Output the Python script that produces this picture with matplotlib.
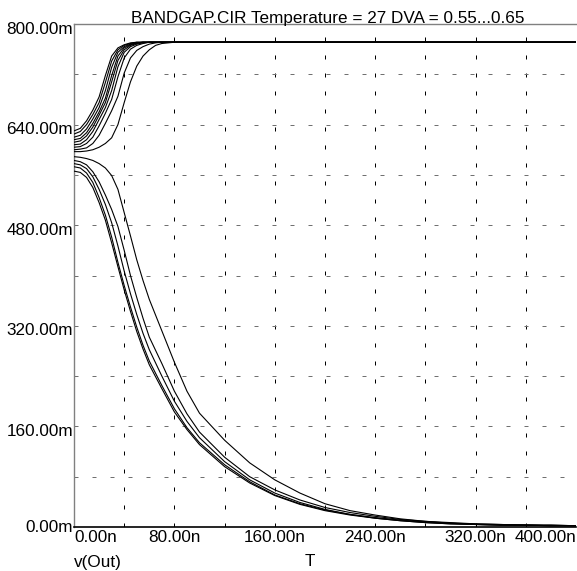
import matplotlib
matplotlib.use("Agg")
import matplotlib.pyplot as plt
import matplotlib.transforms as mtransforms

plt.rcParams['font.family'] = ['Liberation Sans', 'DejaVu Sans']

TITLE = "BANDGAP.CIR Temperature = 27 DVA = 0.55...0.65"

# time in ns, v(Out) in mV
t_rise = [0, 5, 10, 15, 20, 25, 30, 35, 40, 45, 50, 55, 60, 65, 70, 80, 400]
rise_1 = [630, 634, 646, 663, 684, 718, 749, 762, 767, 770, 771, 771, 771, 771, 771, 771, 771]
rise_2 = [625, 629, 640, 656, 675, 707, 741, 759, 766, 769, 771, 771, 771, 771, 771, 771, 771]
rise_3 = [620, 623, 633, 649, 667, 694, 731, 755, 764, 768, 770, 771, 771, 771, 771, 771, 771]
rise_4 = [616, 618, 627, 642, 660, 682, 718, 749, 762, 767, 770, 771, 771, 771, 771, 771, 771]
rise_5 = [612, 614, 622, 636, 655, 675, 708, 742, 759, 766, 769, 771, 771, 771, 771, 771, 771]
rise_6 = [608, 609, 616, 629, 648, 667, 694, 732, 755, 764, 768, 770, 771, 771, 771, 771, 771]
rise_7 = [604, 605, 610, 620, 638, 658, 680, 716, 746, 760, 766, 769, 771, 771, 771, 771, 771]
rise_8 = [600, 601, 603, 610, 623, 642, 662, 685, 722, 746, 758, 764, 768, 770, 771, 771, 771]
rise_9 = [597, 597, 598, 600, 604, 610, 619, 640, 675, 708, 733, 749, 759, 766, 769, 771, 771]

t_fall = [0, 5, 10, 15, 20, 25, 30, 35, 40, 45, 50, 55, 60, 70, 80, 90, 100,
          120, 140, 160, 180, 200, 220, 240, 260, 280, 300, 320, 340, 360, 380, 400]
fall_1 = [566, 564, 556, 540, 516, 488, 452, 414, 377, 343, 311, 283, 258, 220, 183, 155, 131,
          96, 70, 50, 36, 26, 19, 14, 10, 7, 5, 4, 3, 3, 2, 2]
fall_2 = [573, 571, 563, 548, 524, 496, 461, 421, 384, 350, 318, 289, 264, 225, 188, 158, 134,
          99, 72, 51, 37, 27, 20, 14, 10, 7, 5, 4, 3, 3, 2, 2]
fall_3 = [578, 576, 570, 557, 537, 513, 484, 447, 407, 371, 338, 308, 282, 240, 200, 168, 142,
          104, 75, 54, 39, 28, 20, 15, 11, 8, 6, 4, 3, 3, 2, 2]
fall_4 = [583, 581, 576, 565, 549, 528, 505, 478, 440, 400, 365, 332, 302, 260, 216, 180, 151,
          111, 80, 59, 43, 31, 23, 17, 12, 9, 6, 5, 4, 3, 3, 2]
fall_5 = [589, 588, 586, 583, 578, 571, 559, 537, 500, 463, 425, 392, 362, 312, 262, 216, 181,
          138, 102, 75, 54, 37, 26, 19, 13, 9, 7, 5, 4, 3, 3, 2]

x_grid = [40, 80, 120, 160, 200, 240, 280, 320, 360]
y_grid = [80, 160, 240, 320, 400, 480, 560, 640, 720]
x_labels = [0, 80, 160, 240, 320, 400]
y_labels = [0, 160, 320, 480, 640, 800]

FS = 12.3
W, H = 577, 571
fig = plt.figure(figsize=(W / 100, H / 100), dpi=100)
ax = fig.add_axes([74 / W, 1 - 527 / H, 502 / W, 503 / H])
ax.set_xlim(0, 400)
ax.set_ylim(0, 800)

# grid (dash lengths scale with lw=0.72pt -> values in pixels)
for xv in x_grid:
    ax.axvline(xv, color='black', lw=0.72, linestyle=(0, (4, 14)), zorder=1)
for yv in y_grid:
    ax.axhline(yv, color='#707070', lw=0.72, linestyle=(0, (4, 14)), zorder=1)

for v in [rise_1, rise_2, rise_3, rise_4, rise_5, rise_6, rise_7, rise_8, rise_9]:
    ax.plot(t_rise, v, color='black', lw=0.8, zorder=3)
for v in [fall_1, fall_2, fall_3, fall_4, fall_5]:
    ax.plot(t_fall, v, color='black', lw=0.8, zorder=3)

ax.set_xticks([])
ax.set_yticks([])
ax.spines['right'].set_visible(False)
ax.spines['left'].set_color('#808080')
ax.spines['top'].set_color('#808080')
ax.spines['left'].set_linewidth(1.0)
ax.spines['top'].set_linewidth(1.0)
ax.spines['bottom'].set_color('black')
ax.spines['bottom'].set_linewidth(1.2)

# tick labels drawn by hand so they sit like the simulator's
xtr = mtransforms.offset_copy(ax.get_xaxis_transform(), fig=fig, x=0, y=-11, units='dots')
for xv in x_labels:
    ha = 'center'
    if xv == x_labels[0]:
        ha = 'left'
    elif xv == x_labels[-1]:
        ha = 'right'
    ax.text(xv, 0, f"{xv:.2f}n", transform=xtr, ha=ha, va='center', fontsize=FS)

for yv in y_labels:
    dy = -1 if yv == 0 else -5
    ytr = mtransforms.offset_copy(ax.get_yaxis_transform(), fig=fig, x=-1, y=dy, units='dots')
    ax.text(0, yv, f"{yv:.2f}m", transform=ytr, ha='right', va='center', fontsize=FS)

fig.text(328 / W, 1 - 22.5 / H, TITLE, ha='center', va='baseline', fontsize=FS)
fig.text(74 / W, 1 - 562 / H, "v(Out)", ha='left', va='center', fontsize=FS)
fig.text(310 / W, 1 - 562 / H, "T", ha='center', va='center', fontsize=FS)

fig.savefig("out.png", dpi=100)
